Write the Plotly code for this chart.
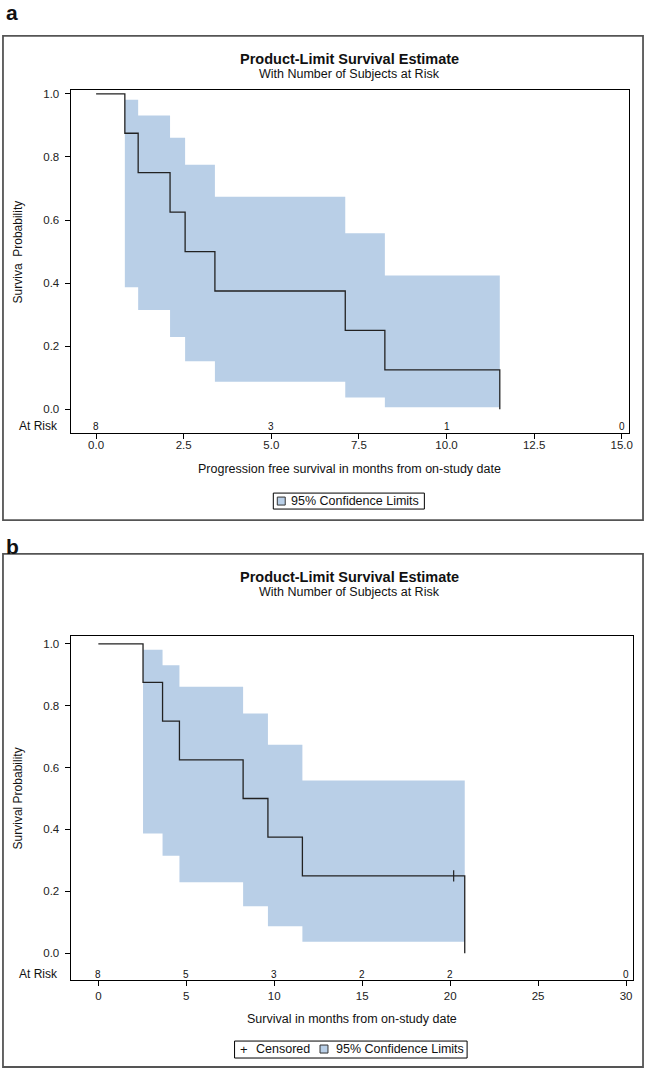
import plotly.graph_objects as go

# ---------------- data ----------------
# Panel a: progression free survival
pfs_times = [0, 0.82, 1.20, 2.11, 2.54, 3.39, 7.11, 8.24, 11.52]
pfs_surv = [1.0, 0.875, 0.75, 0.625, 0.5, 0.375, 0.25, 0.125, 0.0]
pfs_ci_upper = [0.981, 0.931, 0.861, 0.775, 0.674, 0.558, 0.424]
pfs_ci_lower = [0.387, 0.315, 0.229, 0.152, 0.087, 0.037, 0.006]
pfs_risk_times = [0, 5, 10, 15]
pfs_risk_counts = [8, 3, 1, 0]
pfs_ticks = [0, 2.5, 5, 7.5, 10, 12.5, 15]
pfs_ticklabels = ["0.0", "2.5", "5.0", "7.5", "10.0", "12.5", "15.0"]

# Panel b: overall survival
os_times = [0, 2.54, 3.65, 4.61, 8.23, 9.64, 11.60, 20.83]
os_surv = [1.0, 0.875, 0.75, 0.625, 0.5, 0.375, 0.25, 0.0]
os_ci_upper = [0.981, 0.931, 0.861, 0.775, 0.674, 0.558]
os_ci_lower = [0.387, 0.315, 0.229, 0.152, 0.087, 0.037]
os_censor_times = [20.2]
os_censor_surv = [0.25]
os_risk_times = [0, 5, 10, 15, 20, 30]
os_risk_counts = [8, 5, 3, 2, 2, 0]
os_ticks = [0, 5, 10, 15, 20, 25, 30]

y_ticks = [0, 0.2, 0.4, 0.6, 0.8, 1.0]
y_ticklabels = ["0.0", "0.2", "0.4", "0.6", "0.8", "1.0"]

# ---------------- styling ----------------
W, H = 650, 1070
FONT = "Arial, Liberation Sans, sans-serif"
BAND = "#b9cfe7"
LINE = "#222222"


def px_x(p):
    return p / W


def px_y(p):
    return 1 - p / H


def band_polygon(times, upper, lower):
    starts = times[1:1 + len(upper)]
    ends = times[2:2 + len(upper)]
    ends = list(ends) + [times[-1]] * (len(upper) - len(ends))
    xs, ys = [], []
    for s, e, u in zip(starts, ends, upper):
        xs += [s, e]
        ys += [u, u]
    for s, e, l in reversed(list(zip(starts, ends, lower))):
        xs += [e, s]
        ys += [l, l]
    return xs, ys


fig = go.Figure()

# ---- panel a ----
bx, by = band_polygon(pfs_times, pfs_ci_upper, pfs_ci_lower)
fig.add_trace(go.Scatter(x=bx, y=by, fill="toself", fillcolor=BAND, mode="lines",
                         line=dict(width=0, color=BAND), xaxis="x", yaxis="y",
                         showlegend=False, hoverinfo="skip"))
fig.add_trace(go.Scatter(x=pfs_times, y=pfs_surv, mode="lines",
                         line=dict(shape="hv", color=LINE, width=1.3),
                         xaxis="x", yaxis="y", showlegend=False))

# ---- panel b ----
bx, by = band_polygon(os_times, os_ci_upper, os_ci_lower)
fig.add_trace(go.Scatter(x=bx, y=by, fill="toself", fillcolor=BAND, mode="lines",
                         line=dict(width=0, color=BAND), xaxis="x2", yaxis="y2",
                         showlegend=False, hoverinfo="skip"))
fig.add_trace(go.Scatter(x=os_times, y=os_surv, mode="lines",
                         line=dict(shape="hv", color=LINE, width=1.3),
                         xaxis="x2", yaxis="y2", showlegend=False))
fig.add_trace(go.Scatter(x=os_censor_times, y=os_censor_surv, mode="markers",
                         marker=dict(symbol="line-ns", size=8,
                                     line=dict(color=LINE, width=1.2)),
                         xaxis="x2", yaxis="y2", showlegend=False))

axis_common = dict(showline=True, mirror=True, linecolor="black", linewidth=1,
                   ticks="outside", ticklen=5, tickcolor="black", showgrid=False,
                   zeroline=False, tickfont=dict(family=FONT, size=11.5, color="#222"))

fig.update_layout(
    width=W, height=H, margin=dict(l=0, r=0, t=0, b=0),
    paper_bgcolor="white", plot_bgcolor="white", showlegend=False,
    xaxis=dict(axis_common, domain=[px_x(71), px_x(633)], range=[-0.729, 15.21],
               tickvals=pfs_ticks, ticktext=pfs_ticklabels, anchor="y",
               ticklabelstandoff=-4),
    yaxis=dict(axis_common, domain=[px_y(432), px_y(88)], range=[-0.0759, 1.0127],
               tickvals=y_ticks, ticktext=y_ticklabels, anchor="x",
               ticklabelstandoff=3),
    xaxis2=dict(axis_common, domain=[px_x(71), px_x(637)], range=[-1.58, 30.40],
                tickvals=os_ticks, anchor="y2"),
    yaxis2=dict(axis_common, domain=[px_y(980), px_y(635)], range=[-0.0871, 1.0258],
                tickvals=y_ticks, ticktext=y_ticklabels, anchor="x2",
                ticklabelstandoff=3),
)

ann = []
shapes = []


def text(x, y, s, size=12.5, bold=False, xanchor="center", angle=0, xref="paper", yref="paper"):
    ann.append(dict(x=x, y=y, xref=xref, yref=yref, text=("<b>%s</b>" % s) if bold else s,
                    showarrow=False, xanchor=xanchor, yanchor="middle", textangle=angle,
                    font=dict(family=FONT, size=size, color="#111")))


# panel labels
text(px_x(4), px_y(11), "a", size=21, bold=True, xanchor="left")
text(px_x(4), px_y(546), "b", size=21, bold=True, xanchor="left")

# outer frames
for y0, y1 in [(34, 519), (553, 1067)]:
    shapes.append(dict(type="rect", xref="paper", yref="paper",
                       x0=px_x(3), x1=px_x(647), y0=px_y(y1), y1=px_y(y0),
                       line=dict(color="#555", width=1.8)))

# titles
text(px_x(352), px_y(57), "Product-Limit Survival Estimate", size=14.5, bold=True)
text(px_x(352), px_y(72), "With Number of Subjects at Risk", size=12.5)
text(px_x(352), px_y(576), "Product-Limit Survival Estimate", size=14.5, bold=True)
text(px_x(352), px_y(591), "With Number of Subjects at Risk", size=12.5)

# y titles
text(px_x(18), px_y(250), "Surviva  Probability", size=12, angle=-90)
text(px_x(18), px_y(798), "Survival Probability", size=12, angle=-90)

# x titles
text(px_x(352), px_y(468), "Progression free survival in months from on-study date", size=12.5)
text(px_x(354), px_y(1019), "Survival in months from on-study date", size=12.5)

# At risk rows
text(px_x(60), px_y(425), "At Risk", size=12, xanchor="right")
text(px_x(60), px_y(974), "At Risk", size=12, xanchor="right")
for t, n in zip(pfs_risk_times, pfs_risk_counts):
    text(t, -0.054, str(n), size=10, xref="x", yref="y")
for t, n in zip(os_risk_times, os_risk_counts):
    text(t, -0.068, str(n), size=10, xref="x2", yref="y2")

# legend a
shapes.append(dict(type="rect", xref="paper", yref="paper", x0=px_x(275), x1=px_x(427),
                   y0=px_y(508), y1=px_y(492), line=dict(color="black", width=1)))
shapes.append(dict(type="rect", xref="paper", yref="paper", x0=px_x(279), x1=px_x(287),
                   y0=px_y(504), y1=px_y(496), fillcolor=BAND, line=dict(color="#333", width=1)))
text(px_x(291), px_y(500), "95% Confidence Limits", size=12.5, xanchor="left")

# legend b
shapes.append(dict(type="rect", xref="paper", yref="paper", x0=px_x(236), x1=px_x(470),
                   y0=px_y(1058), y1=px_y(1041), line=dict(color="black", width=1)))
text(px_x(246), px_y(1049), "+", size=13)
text(px_x(256), px_y(1049), "Censored", size=12.5, xanchor="left")
shapes.append(dict(type="rect", xref="paper", yref="paper", x0=px_x(322), x1=px_x(330),
                   y0=px_y(1053), y1=px_y(1045), fillcolor=BAND, line=dict(color="#333", width=1)))
text(px_x(336), px_y(1049), "95% Confidence Limits", size=12.5, xanchor="left")

fig.update_layout(annotations=ann, shapes=shapes)

fig.write_html(
    "out.html",
    config={"displayModeBar": False},
    post_script="document.body.style.margin='0px';document.body.style.padding='0px';"
                "document.documentElement.style.overflow='hidden';",
)
